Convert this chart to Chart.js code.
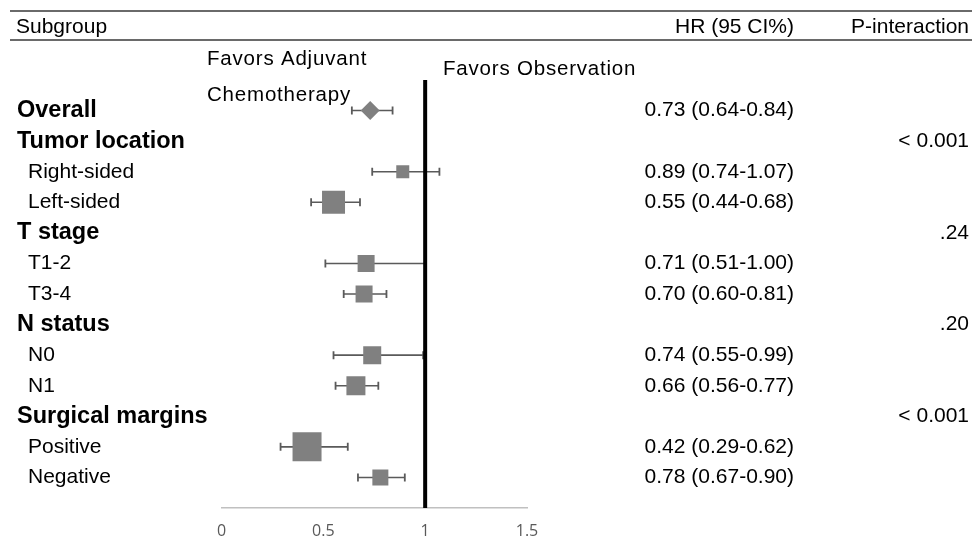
<!DOCTYPE html>
<html>
<head>
<meta charset="utf-8">
<script src="https://cdn.jsdelivr.net/npm/chart.js@4"></script>
<style>
  html, body { margin: 0; padding: 0; background: #fff; }
  #wrap { width: 972px; height: 539px; }
</style>
</head>
<body>
<div id="wrap"><canvas id="forest"></canvas></div>
<script>
// rows, top to bottom
const subgroups = ['Overall', 'Tumor location', 'Right-sided', 'Left-sided', 'T stage', 'T1-2', 'T3-4',
                   'N status', 'N0', 'N1', 'Surgical margins', 'Positive', 'Negative'];
const isHeading = [true, true, false, false, true, false, false, true, false, false, true, false, false];
const hr    = [0.73, null, 0.89, 0.55, null, 0.71, 0.70, null, 0.74, 0.66, null, 0.42, 0.78];
const lower = [0.64, null, 0.74, 0.44, null, 0.51, 0.60, null, 0.55, 0.56, null, 0.29, 0.67];
const upper = [0.84, null, 1.07, 0.68, null, 1.00, 0.81, null, 0.99, 0.77, null, 0.62, 0.90];
const pInteraction = [null, '< 0.001', null, null, '.24', null, null, '.20', null, null, '< 0.001', null, null];
const xTicks = [0, 0.5, 1, 1.5];

// box side in px for each row (study weight look)
const markerSide = [0, 0, 13, 23, 0, 17, 17, 0, 18, 19, 0, 29, 16];

const ROW_MIN = -1, ROW_MAX = 13;

// build datasets from the arrays
const squares = [], squareRadius = [], ciPoints = [];
hr.forEach((v, i) => {
  if (v == null) return;
  ciPoints.push({x: lower[i], y: i}, {x: upper[i], y: i}, {x: upper[i], y: null});
  if (i > 0) {
    squares.push({x: v, y: i});
    squareRadius.push(markerSide[i] / Math.SQRT2);
  }
});

const textPlugin = {
  id: 'forestText',
  afterDraw(chart) {
    const ctx = chart.ctx;
    const y = chart.scales.y;
    ctx.save();
    // header rules
    ctx.strokeStyle = '#3a3a3a';
    ctx.lineWidth = 1.3;
    ctx.beginPath();
    ctx.moveTo(10, 11); ctx.lineTo(972, 11);
    ctx.moveTo(10, 40); ctx.lineTo(972, 40);
    ctx.stroke();

    ctx.fillStyle = '#000';
    ctx.textBaseline = 'alphabetic';
    ctx.font = '21px "Liberation Sans", Arial, sans-serif';
    ctx.textAlign = 'left';
    ctx.fillText('Subgroup', 16, 33);
    ctx.textAlign = 'right';
    ctx.fillText('HR (95 CI%)', 794, 33);
    ctx.fillText('P-interaction', 969, 33);

    // favors labels
    ctx.textAlign = 'left';
    ctx.font = '20.5px "Liberation Sans", Arial, sans-serif';
    ctx.letterSpacing = '0.8px';
    ctx.fillText('Favors Adjuvant', 207, 65);
    ctx.fillText('Chemotherapy', 207, 101);
    ctx.fillText('Favors Observation', 443, 75);
    ctx.letterSpacing = '0px';

    ctx.textBaseline = 'middle';
    subgroups.forEach((name, i) => {
      const py = y.getPixelForValue(i);
      ctx.textAlign = 'left';
      if (isHeading[i]) {
        ctx.font = 'bold 23.5px "Liberation Sans", Arial, sans-serif';
        ctx.fillText(name, 17, py);
      } else {
        ctx.font = '21px "Liberation Sans", Arial, sans-serif';
        ctx.fillText(name, 28, py);
      }
      ctx.font = '21px "Liberation Sans", Arial, sans-serif';
      ctx.textAlign = 'right';
      if (hr[i] != null) {
        const s = hr[i].toFixed(2) + ' (' + lower[i].toFixed(2) + '-' + upper[i].toFixed(2) + ')';
        ctx.fillText(s, 794, py);
      }
      if (pInteraction[i]) ctx.fillText(pInteraction[i], 969, py);
    });
    ctx.restore();
  }
};

new Chart(document.getElementById('forest'), {
  type: 'scatter',
  data: {
    datasets: [
      {
        label: 'no effect',
        data: [{x: 1, y: ROW_MIN}, {x: 1, y: ROW_MAX}],
        showLine: true,
        borderColor: '#000',
        borderWidth: 4,
        pointRadius: 0,
        order: 0
      },
      {
        label: 'overall',
        data: [{x: hr[0], y: 0}],
        pointStyle: 'rectRot',
        pointRadius: 9.5,
        backgroundColor: '#808080',
        borderWidth: 0,
        order: 1
      },
      {
        label: 'subgroups',
        data: squares,
        pointStyle: 'rect',
        pointRadius: squareRadius,
        backgroundColor: '#808080',
        borderWidth: 0,
        order: 1
      },
      {
        label: 'ci',
        data: ciPoints,
        showLine: true,
        spanGaps: false,
        borderColor: '#5a5a5a',
        borderWidth: 1.6,
        pointStyle: 'line',
        pointRotation: 90,
        pointRadius: 4,
        pointBorderColor: '#5a5a5a',
        pointBorderWidth: 1.8,
        order: 2
      }
    ]
  },
  options: {
    responsive: true,
    maintainAspectRatio: false,
    animation: false,
    events: [],
    layout: { padding: { left: 221.5, right: 445, top: 80, bottom: 0 } },
    plugins: { legend: { display: false }, tooltip: { enabled: false } },
    scales: {
      x: {
        type: 'linear',
        min: 0,
        max: 1.5,
        afterBuildTicks: s => { s.ticks = xTicks.map(v => ({ value: v })); },
        afterFit: s => { s.height = 31; },
        grid: { display: false, drawTicks: false },
        border: { display: true, color: '#c0c0c0', width: 1.5 },
        ticks: {
          padding: 14,
          color: '#595959',
          font: { family: '"Open Sans", sans-serif', size: 16 },
          callback: v => String(v)
        }
      },
      y: {
        type: 'linear',
        min: ROW_MIN,
        max: ROW_MAX,
        reverse: true,
        display: false
      }
    }
  },
  plugins: [textPlugin]
});
</script>
</body>
</html>
